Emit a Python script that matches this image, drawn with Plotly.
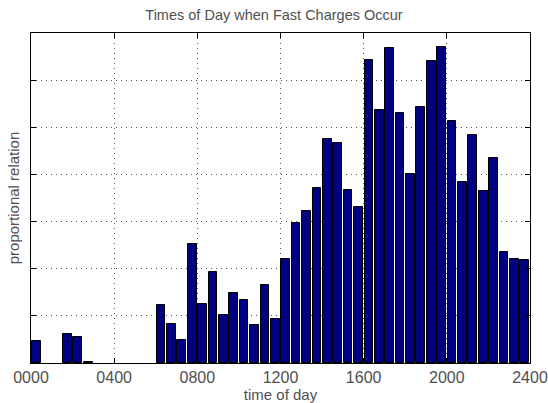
import plotly.graph_objects as go

bin_centers = [25 + 50 * k for k in range(48)]
proportion = [0.47, 0, 0, 0.61, 0.55, 0.02, 0, 0, 0, 0, 0, 0,
              1.24, 0.82, 0.48, 2.53, 1.26, 1.93, 1.02, 1.48, 1.33, 0.80, 1.66, 0.94,
              2.21, 2.97, 3.23, 3.71, 4.76, 4.67, 3.67, 3.30, 6.43, 5.37, 6.68, 5.31,
              4.01, 5.43, 6.40, 6.71, 5.13, 3.85, 4.84, 3.65, 4.35, 2.36, 2.21, 2.19]
tick_vals = [0, 400, 800, 1200, 1600, 2000, 2400]
tick_text = ["0000", "0400", "0800", "1200", "1600", "2000", "2400"]

edge_widths = [0 if v == 0 else 1 for v in proportion]

fig = go.Figure(go.Bar(
    x=bin_centers, y=proportion, width=42,
    marker=dict(color="#000080", line=dict(color="#000000", width=edge_widths)),
))

font = "Liberation Sans, Arial, sans-serif"
txt = "#505050"
fig.update_layout(
    width=548, height=403,
    margin=dict(l=31, r=18, t=33, b=40),
    plot_bgcolor="white", paper_bgcolor="white",
    showlegend=False,
    title=dict(text="Times of Day when Fast Charges Occur", x=0.5, xanchor="center",
               y=1 - 15 / 403, yanchor="middle",
               font=dict(family=font, size=14.5, color=txt)),
    font=dict(family=font, size=15, color=txt),
    bargap=0,
)
grid = dict(showgrid=True, gridcolor="#555555", griddash="1px,4px", gridwidth=1)
fig.update_xaxes(
    range=[0, 2400], tickvals=tick_vals, ticktext=tick_text, automargin=False,
    ticks="inside", ticklen=5, tickcolor="#000", showline=True, linecolor="#000",
    linewidth=1, mirror="ticks", zeroline=False, **grid,
    tickfont=dict(family=font, size=16, color=txt),
    title=dict(text="time of day", standoff=0, font=dict(family=font, size=15, color=txt)),
)
fig.update_yaxes(
    range=[0, 7], tickvals=[0, 1, 2, 3, 4, 5, 6, 7], showticklabels=False, automargin=False,
    ticks="inside", ticklen=5, tickcolor="#000", showline=True, linecolor="#000",
    linewidth=1, mirror="ticks", zeroline=False, **grid,
    title=dict(text="proportional relation", standoff=6, font=dict(family=font, size=15, color=txt)),
)
fig.write_html("out.html", config={"displayModeBar": False},
               post_script="document.body.style.margin='0';document.body.style.overflow='hidden';")
